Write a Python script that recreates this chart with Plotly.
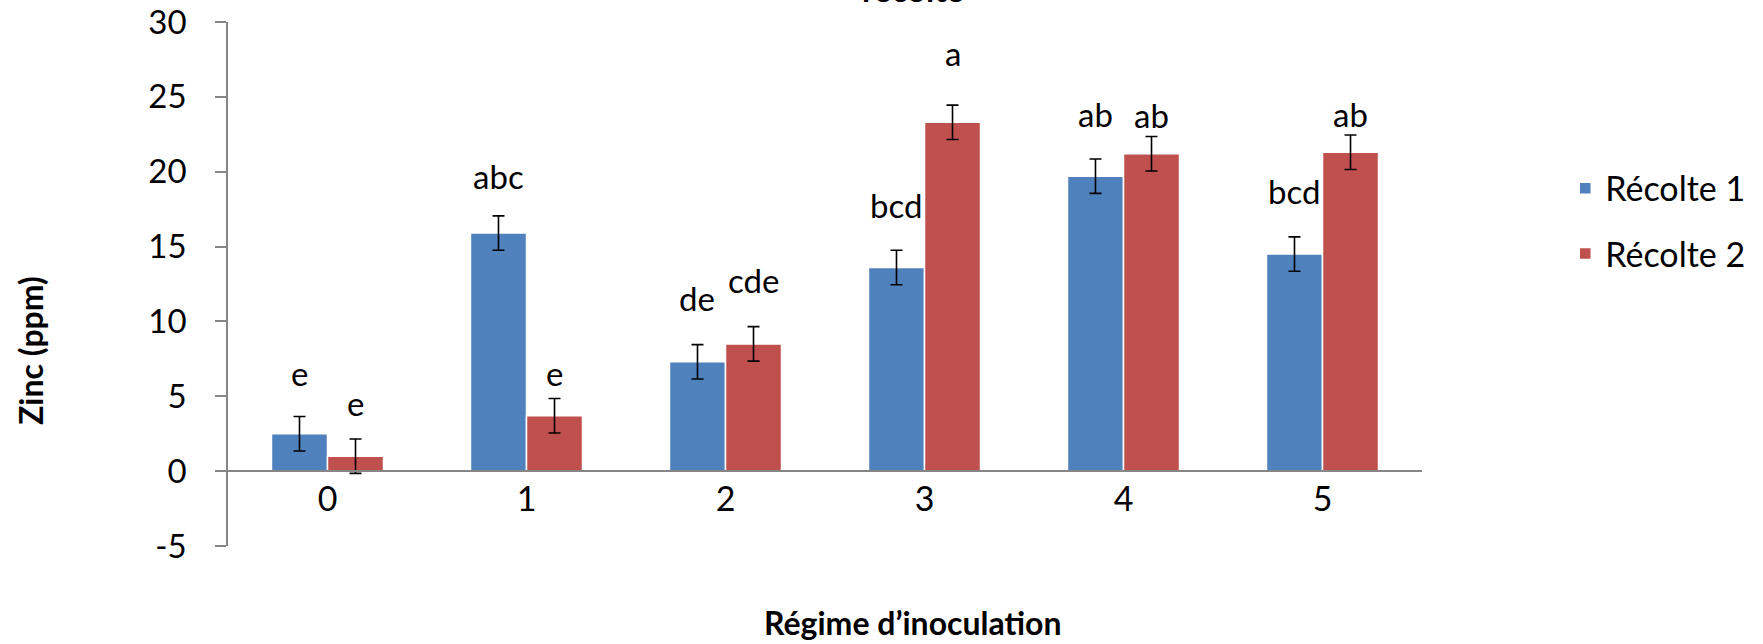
import plotly.graph_objects as go

# Zinc content per inoculation regime, two harvests
regimes = ["0", "1", "2", "3", "4", "5"]
recolte1 = [2.5, 15.9, 7.3, 13.6, 19.7, 14.5]
recolte2 = [1.0, 3.7, 8.5, 23.3, 21.2, 21.3]
err1 = [1.15, 1.15, 1.15, 1.15, 1.15, 1.15]
err2 = [1.15, 1.15, 1.15, 1.15, 1.15, 1.15]
letters1 = ["e", "abc", "de", "bcd", "ab", "bcd"]
letters2 = ["e", "e", "cde", "a", "ab", "ab"]
y_ticks = [-5, 0, 5, 10, 15, 20, 25, 30]
y_ticktext = ["-5", "0", "5", "10", "15", "20", "25", "30"]

BLUE = "#4F81BD"
RED = "#C0504D"
AXIS = "#868686"
FONT = "Lato, Carlito, Calibri, sans-serif"
BARGAP = 0.437

W, H = 1763, 644
L, R, T, B = 228, 341, 22, 98

fig = go.Figure()
fig.add_trace(go.Bar(
    x=regimes, y=recolte1, name="Récolte 1", legendgroup="r1",
    marker=dict(color=BLUE, line=dict(color="white", width=1.5)),
    error_y=dict(type="data", array=err1, color="black", thickness=1.6, width=6),
))
fig.add_trace(go.Bar(
    x=regimes, y=recolte2, name="Récolte 2", legendgroup="r2",
    marker=dict(color=RED, line=dict(color="white", width=1.5)),
    error_y=dict(type="data", array=err2, color="black", thickness=1.6, width=6),
))

# significance letters above each error bar (pixel gap above the bar top)
gap1 = [44, 40, 47, 45, 45, 46]
gap2 = [36, 26, 47, 52, 22, 21]
half = (1 - BARGAP) / 4
annotations = []
for i in range(len(regimes)):
    for val, err, txt, gap, dx in ((recolte1[i], err1[i], letters1[i], gap1[i], -half),
                                    (recolte2[i], err2[i], letters2[i], gap2[i], half)):
        annotations.append(dict(
            x=i + dx, y=val + err, xref="x", yref="y", text=txt, showarrow=False,
            yanchor="middle", yshift=gap, font=dict(size=33, color="black", family=FONT),
        ))

plot_w = W - L - R
plot_h = H - T - B
annotations.append(dict(
    x=(913 - L) / plot_w, y=(H - B - 622) / plot_h, xref="paper", yref="paper",
    text="<b>Régime d’inoculation</b>", showarrow=False,
    xanchor="center", yanchor="middle", font=dict(size=32, color="black", family=FONT),
))
annotations.append(dict(
    x=(30 - L) / plot_w, y=(H - B - 351) / plot_h, xref="paper", yref="paper",
    text="<b>Zinc (ppm)</b>", showarrow=False, textangle=-90,
    xanchor="center", yanchor="middle", font=dict(size=32, color="black", family=FONT),
))
annotations.append(dict(
    x=(913 - L) / plot_w, y=1, xref="paper", yref="paper",
    text="<b>récolte</b>", showarrow=False, xanchor="center", yanchor="bottom",
    yshift=11, font=dict(size=33, color="black", family=FONT),
))

fig.update_layout(
    width=W, height=H,
    margin=dict(l=L, r=R, t=T, b=B, autoexpand=False),
    paper_bgcolor="white", plot_bgcolor="white",
    barmode="group", bargap=BARGAP, bargroupgap=0,
    font=dict(family=FONT, size=33, color="black"),
    showlegend=True,
    legend=dict(x=1.12, y=0.62, xanchor="left", yanchor="middle",
                tracegroupgap=18, font=dict(size=34, family=FONT, color="black"),
                bgcolor="rgba(0,0,0,0)"),
    annotations=annotations,
)
fig.update_xaxes(
    type="category", range=[-0.5, 5.5],
    anchor="free", position=5 / 35,
    showline=True, linecolor=AXIS, linewidth=1.5,
    ticks="", showgrid=False, zeroline=False,
    ticklabelstandoff=-2,
    tickfont=dict(size=34, family=FONT, color="black"),
)
fig.update_yaxes(
    range=[-5, 30], tickvals=y_ticks, ticktext=y_ticktext,
    showline=True, linecolor=AXIS, linewidth=1.5,
    ticks="outside", ticklen=11, tickcolor=AXIS, tickwidth=1.5,
    showgrid=False, zeroline=False, ticklabelstandoff=22,
    tickfont=dict(size=33, family=FONT, color="black"),
)

fig.write_html("out.html")
